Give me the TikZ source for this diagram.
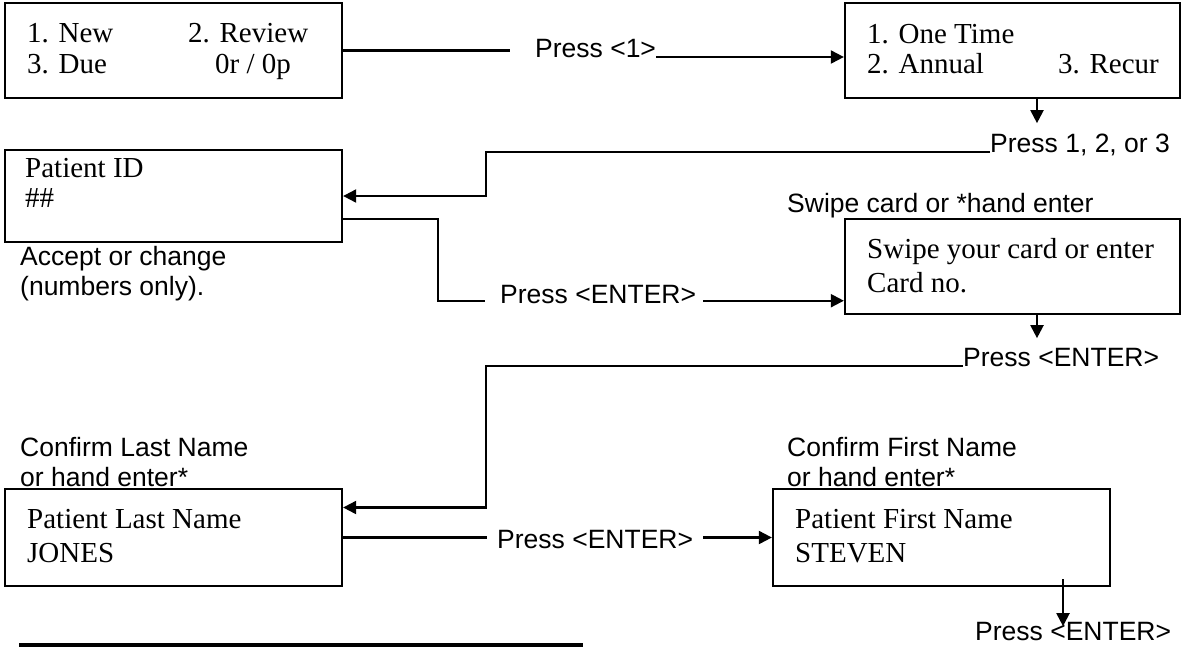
\documentclass[tikz,border=0pt]{standalone}
\usepackage{fontspec}
\setmainfont{Liberation Serif}
\setsansfont{Liberation Sans}
\usetikzlibrary{arrows.meta,calc}

\begin{document}
\begin{tikzpicture}[x=1pt,y=1pt,yscale=-1,xscale=1,
  screen/.style={draw, line width=2.3pt, inner sep=0, minimum width=337pt, minimum height=95pt},
  scr/.style={anchor=base west, inner sep=0, font=\fontsize{29}{32}\selectfont},
  lbl/.style={anchor=base west, inner sep=0, align=left, font=\sffamily\fontsize{26.5}{30}\selectfont},
  line/.style={line width=2.1pt},
  flow/.style={line width=2.1pt, -{Triangle[length=13pt,width=13pt]}}]

\useasboundingbox (0,0) rectangle (1182,649);

% screens
\node[screen] (menu) at (173.5,50.5) {};
\node[screen, minimum width=335pt] (opts) at (1012.5,50.5) {};
\node[screen, minimum height=92pt] (pid) at (173.5,196) {};
\node[screen, minimum width=335pt] (card) at (1012.5,266.5) {};
\node[screen, minimum height=97pt] (last) at (173.5,537.5) {};
\node[screen, minimum height=97pt] (first) at (941.5,537.5) {};

% screen texts
\node[scr] (m1) at (27,42) {1. New};
\node[scr] (m2) at (188,42) {2. Review};
\node[scr] (m3) at (27,73) {3. Due};
\node[scr] (m4) at (215,73) {0r / 0p};

\node[scr] (o1) at (867,43) {1. One Time};
\node[scr] (o2) at (867,73) {2. Annual};
\node[scr] (o3) at (1058,73) {3. Recur};

\node[scr] (id1) at (25,177) {Patient ID};
\node[scr] (id2) at (25,207) {\#\#};

\node[scr] (c1) at (867,258) {Swipe your card or enter};
\node[scr] (c2) at (867,292) {Card no.};

\node[scr] (l1) at (27,528) {Patient Last Name};
\node[scr] (l2) at (27,562) {JONES};

\node[scr] (f1) at (795,528) {Patient First Name};
\node[scr] (f2) at (795,562) {STEVEN};

% labels
\node[lbl] (pone) at (535,57) {Press <1>};
\node[lbl] (pthree) at (990,152) {Press 1, 2, or 3};
\node[lbl, anchor=north west] (accept) at (20,246) {Accept or change\\(numbers only).};
\node[lbl] (pent) at (500,303) {Press <ENTER>};
\node[lbl] (swipe) at (787,212) {Swipe card or *hand enter};
\node[lbl] (pfour) at (963,366) {Press <ENTER>};
\node[lbl, anchor=north west] (conflast) at (20,437) {Confirm Last Name\\or hand enter*};
\node[lbl, anchor=north west] (conffirst) at (787,437) {Confirm First Name\\or hand enter*};
\node[lbl] (pfive) at (497,548) {Press <ENTER>};
\node[lbl] (psix) at (975,640) {Press <ENTER>};

% connectors
\draw[line, shorten >=25pt] (menu.east) -- (menu.east -| pone.west);
\draw[flow] (pone.base east) -- (pone.base east -| opts.west);

\draw[flow] ($(opts.south)+(24.5,0)$) -- ++(0,24);
\draw[flow] (pthree.base west) -- ++(-504,0) |- (pid.east);

\draw[line, shorten >=15pt] (pid.east) ++(0,23) -- ++(95,0) |- (pent.mid west);
\draw[flow, shorten <=7pt] (pent.mid east) -- (pent.mid east -| card.west);

\draw[flow] ($(card.south)+(24.5,0)$) -- ++(0,23);
\draw[flow] (pfour.base west) -- ++(-477,0) |- ($(last.east)+(0,-30)$);

\draw[line, shorten >=10pt] (last.east) -- (last.east -| pfive.west);
\draw[flow, shorten <=10pt] (pfive.east |- last.east) -- (first.west);

\draw[flow] ($(first.south)+(121.5,-8)$) -- ++(0,47);

% rule
\draw[line width=4.5pt] (19,645) -- (583,645);

\end{tikzpicture}
\end{document}
